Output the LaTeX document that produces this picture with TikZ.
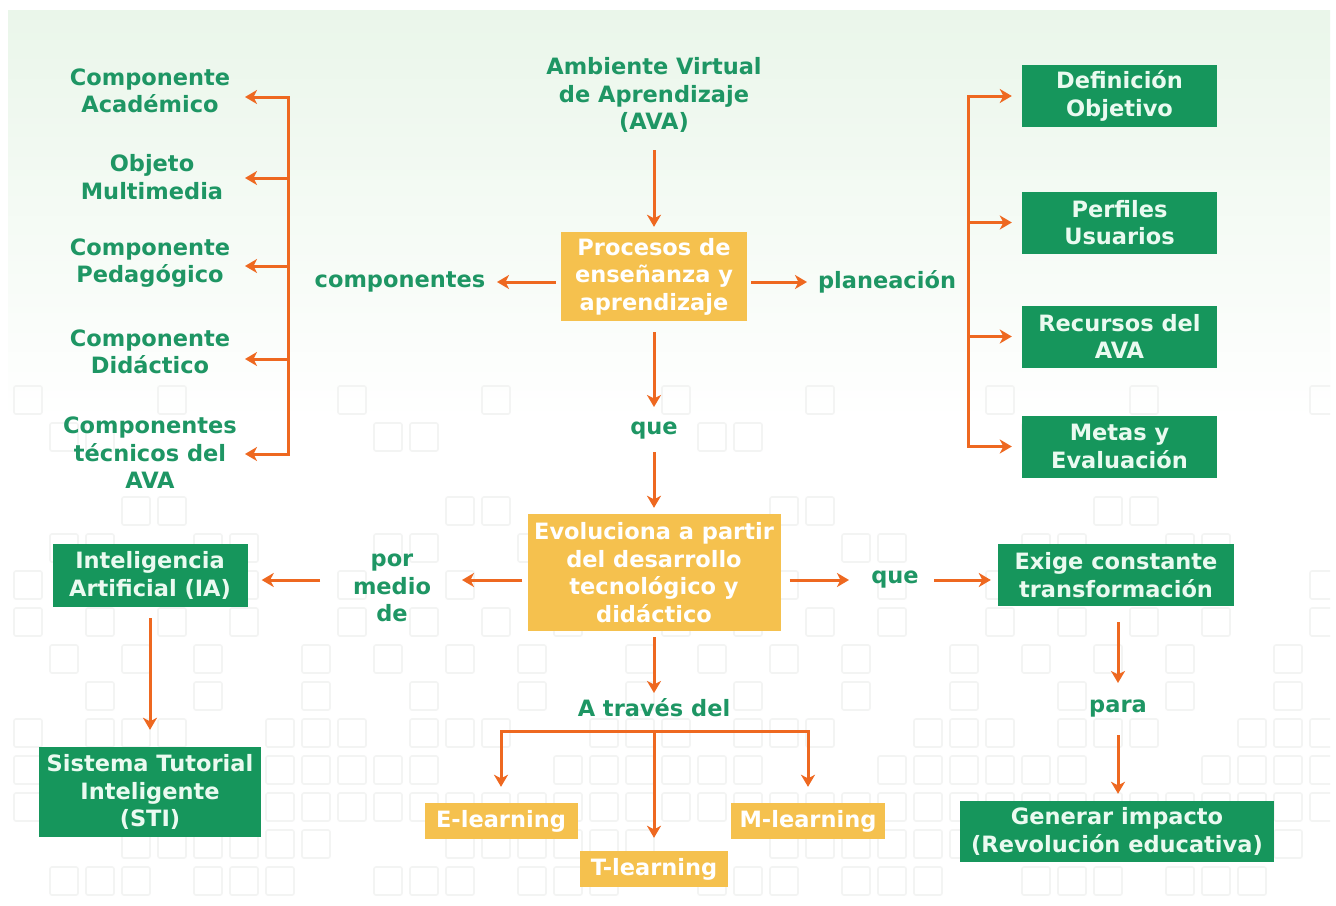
\documentclass[tikz,border=0pt]{standalone}
\usepackage{fontspec}
\setmainfont{DejaVu Sans}
\usetikzlibrary{arrows.meta,calc}
\definecolor{tgreen}{RGB}{30,150,100}
\definecolor{bgreen}{RGB}{22,150,92}
\definecolor{mint}{RGB}{234,250,240}
\definecolor{bor}{RGB}{245,193,78}
\definecolor{aor}{RGB}{238,104,32}
\definecolor{bgtop}{RGB}{234,246,234}
\definecolor{sqc}{RGB}{243,244,243}
\begin{document}
\begin{tikzpicture}[x=1pt,y=-1pt,
  every node/.style={font=\fontsize{22.5}{27.5}\selectfont\bfseries, align=center, inner sep=0pt},
  gtxt/.style={text=tgreen},
  gbox/.style={fill=bgreen,text=mint},
  obox/.style={fill=bor,text=white},
  arr/.style={draw=aor,line width=3pt,-{Stealth[length=12pt,width=14pt,inset=3.5pt]}},
  brk/.style={draw=aor,line width=3pt,line cap=rect},
  sq/.style={draw=sqc,line width=1.6pt,rounded corners=2pt}]
\useasboundingbox (0,0) rectangle (1336,905);
\fill[white] (0,0) rectangle (1336,905);
\shade[top color=bgtop,bottom color=white] (8,10) rectangle (1330,420);
% faint background squares
\begin{scope}
\clip (8,10) rectangle (1330,900);
\foreach \j in {0,...,13}{
  \foreach \i in {0,...,36}{
    \pgfmathtruncatemacro{\k}{mod(\i*7+\j*11+\i*\j,9)}
    \pgfmathtruncatemacro{\lim}{\j<4 ? 2 : (\j<9 ? 4 : 6)}
    \ifnum\k<\lim
      \draw[sq] (14+\i*36,386+\j*37) rectangle ++(28,28);
    \fi
  }
}
\end{scope}

% left column
\node[gtxt] (c1) at (150,91) {Componente\\Académico};
\node[gtxt] (c2) at (152,177) {Objeto\\Multimedia};
\node[gtxt] (c3) at (150,263) {Componente\\Pedagógico};
\node[gtxt] (c4) at (150,352) {Componente\\Didáctico};
\node[gtxt] (c5) at (150,453) {Componentes\\técnicos del\\AVA};

% centre
\node[gtxt] (ava) at (654,95) {Ambiente Virtual\\de Aprendizaje\\(AVA)};
\node[obox,minimum width=186pt,minimum height=89pt] (proc) at (654,276.5) {Procesos de\\enseñanza y\\aprendizaje};
\node[gtxt] (comp) at (400,282) {componentes};
\node[gtxt] (plan) at (887,282) {planeación};
\node[gtxt] (que1) at (654,431) {que};
\node[obox,minimum width=253pt,minimum height=117pt] (evo) at (654,572.5) {Evoluciona a partir\\del desarrollo\\tecnológico y\\didáctico};
\node[gtxt] (por) at (392,588) {por\\medio\\de};
\node[gtxt] (que2) at (895,580) {que};
\node[gtxt] (atr) at (654,708) {A través del};
\node[gtxt] (para) at (1118,709) {para};

% right column
\node[gbox,minimum width=195pt,minimum height=62pt] (d1) at (1119.5,96) {Definición\\Objetivo};
\node[gbox,minimum width=195pt,minimum height=62pt] (d2) at (1119.5,222.5) {Perfiles\\Usuarios};
\node[gbox,minimum width=195pt,minimum height=62pt] (d3) at (1119.5,336.5) {Recursos del\\AVA};
\node[gbox,minimum width=195pt,minimum height=62pt] (d4) at (1119.5,446.5) {Metas y\\Evaluación};

% lower boxes
\node[gbox,minimum width=195pt,minimum height=63pt] (ia) at (150,575.5) {Inteligencia\\Artificial (IA)};
\node[gbox,minimum width=222pt,minimum height=90pt] (sti) at (150,792) {Sistema Tutorial\\Inteligente\\(STI)};
\node[gbox,minimum width=236pt,minimum height=62pt] (ex) at (1116,575) {Exige constante\\transformación};
\node[gbox,minimum width=314pt,minimum height=61pt] (gen) at (1117,831.5) {Generar impacto\\(Revolución educativa)};
\node[obox,minimum width=153pt,minimum height=36pt] (el) at (501,821) {E-learning};
\node[obox,minimum width=154pt,minimum height=36pt] (ml) at (808,821) {M-learning};
\node[obox,minimum width=148pt,minimum height=36pt] (tl) at (654,869) {T-learning};

% left bracket
\foreach \i/\y in {1/97,2/178,3/266,4/359,5/454}{
  \coordinate (l\i) at (288,\y);
  \coordinate (t\i) at (245,\y);
}
\draw[brk] (l1) -- (l5);
\foreach \i in {1,...,5}{ \draw[arr] (l\i) -- (t\i); }

% right bracket
\foreach \i in {1,...,4}{ \coordinate (r\i) at (968,0 |- d\i.west); }
\draw[brk] (r1) -- (r4);
\foreach \i in {1,...,4}{ \draw[arr] (r\i) -- ([xshift=-10pt]d\i.west); }

% main arrows (vertical)
\draw[arr] ($(ava.center)+(0,55)$) -- ($(proc.north)+(0,-5)$);
\draw[arr] ($(proc.south)+(0,11)$) -- ($(que1.center)+(0,-24)$);
\draw[arr] ($(que1.center)+(0,21)$) -- ($(evo.north)+(0,-6)$);
\draw[arr] ($(evo.south)+(0,6)$) -- ($(atr.center)+(0,-15)$);
\draw[arr] ($(ia.south)+(0,11)$) -- ($(sti.north)+(0,-17)$);
\draw[arr] ($(para.center |- ex.south)+(0,16)$) -- ($(para.center)+(0,-26)$);
\draw[arr] ($(para.center)+(0,26)$) -- ($(para.center |- gen.north)+(0,-7)$);
% main arrows (horizontal)
\draw[arr] ($(proc.west |- comp)+(-5,0)$) -- ($(comp.center)+(97,0)$);
\draw[arr] ($(proc.east |- plan)+(4,0)$) -- ($(plan.center)+(-80,0)$);
\draw[arr] ($(evo.west |- que2)+(-5,0)$) -- ($(por.center |- que2)+(70,0)$);
\draw[arr] ($(por.center |- que2)+(-72,0)$) -- ($(ia.east |- que2)+(14,0)$);
\draw[arr] ($(evo.east |- que2)+(9,0)$) -- ($(que2.center)+(-46,0)$);
\draw[arr] ($(que2.center)+(39,0)$) -- ($(ex.west |- que2)+(-7,0)$);

% tree under "A través del"
\coordinate (h1) at (501,731);
\coordinate (h2) at (654,731);
\coordinate (h3) at (808,731);
\draw[brk] (h1) -- (h3);
\draw[arr] (h1) -- ($(el.north)+(0,-16)$);
\draw[arr] (h2) -- ($(tl.north)+(0,-13)$);
\draw[arr] (h3) -- ($(ml.north)+(0,-16)$);
\end{tikzpicture}
\end{document}
